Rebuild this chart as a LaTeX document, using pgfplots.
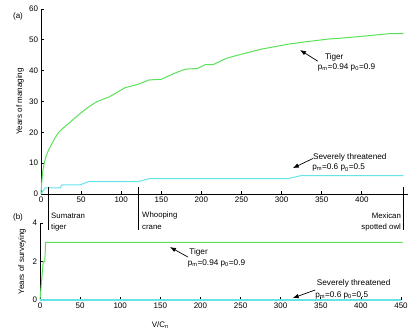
\documentclass[border=0pt]{standalone}
\usepackage{fontspec}
\setmainfont{Liberation Sans}
\usepackage{pgfplots}
\pgfplotsset{compat=1.18}
\usetikzlibrary{arrows.meta}
\definecolor{tgreen}{RGB}{90,225,90}
\definecolor{tcyan}{RGB}{100,228,232}
\pgfplotsset{mystyle/.style={
  scale only axis,
  axis x line=bottom, axis y line=left,
  axis line style={-, black, line width=0.8bp},
  tick align=inside, major tick length=3bp,
  tick style={black, line width=0.7bp},
  ticklabel style={font=\fontsize{8bp}{9bp}\selectfont},
  /pgf/number format/assume math mode=true,
  clip=false,
}}
\tikzset{ann/.style={font=\fontsize{8.2bp}{9bp}\selectfont, inner sep=0pt},
  mk/.style={font=\fontsize{7.8bp}{9bp}\selectfont, inner sep=0pt},
  arr/.style={-{Latex[length=6bp,width=4.5bp]}, line width=0.7bp}}
\begin{document}
\fontsize{8bp}{9.5bp}\selectfont
\begin{tikzpicture}
\path[use as bounding box] (0bp,0bp) rectangle (408bp,-333bp);
% ---------- (a) ----------
\begin{axis}[mystyle, at={(41bp,-194bp)}, anchor=south west,
  width=367.3bp, height=185bp,
  xmin=0, xmax=458, ymin=0, ymax=60,
  xtick={0,50,...,400}, ytick={0,10,...,60}]
\addplot[tgreen, line width=1bp] coordinates {
(0,0) (1,4) (2,7) (4,10) (6,12) (9,14) (13,16) (17,18) (22,20) (28,21.5)
(35,23) (46,25.5) (58,28) (70,30) (85,31.5) (95,33) (105,34.5) (120,35.5)
(135,37) (150,37.2) (165,39) (180,40.5) (195,40.7) (205,42) (215,42)
(231,44) (245,45) (260,46) (275,47) (290,47.7) (306,48.5) (325,49.2)
(344,49.8) (360,50.3) (372,50.5) (394,51) (415,51.5) (434,52) (452,52)};
\addplot[tcyan, line width=1bp] coordinates {
(0,0) (5,2) (24,2) (26,3) (49,3) (59,4) (121,4) (135,5) (308,5) (325,6) (452,6)};
% species markers
\draw[line width=0.7bp] (axis cs:9,2.3) -- (axis cs:9,-11.7);
\draw[line width=0.7bp] (axis cs:122,2.3) -- (axis cs:122,-11.7);
\draw[line width=0.7bp] (axis cs:452,2.3) -- (axis cs:452,-11.7);
\node[mk, anchor=west] at (axis cs:12.5,-7.1) {Sumatran};
\node[mk, anchor=west] at (axis cs:12.5,-11.0) {tiger};
\node[mk, anchor=west] at (axis cs:126,-7.1) {Whooping};
\node[mk, anchor=west] at (axis cs:126,-11.0) {crane};
\node[mk, anchor=east] at (axis cs:449,-7.1) {Mexican};
\node[mk, anchor=east] at (axis cs:449,-11.0) {spotted owl};
% annotations
\node[ann, anchor=west] at (axis cs:354,44.4) {Tiger};
\node[ann, anchor=west] at (axis cs:345,41.0) {p\textsubscript{m}=0.94 p\textsubscript{0}=0.9};
\draw[arr] (axis cs:345,43.1) -- (axis cs:323,46.7);
\node[ann, anchor=west] at (axis cs:339,12.0) {Severely threatened};
\node[ann, anchor=west] at (axis cs:338,8.5) {p\textsubscript{m}=0.6 p\textsubscript{0}=0.5};
\draw[arr] (axis cs:339,11.5) -- (axis cs:314,8.4);
\node[ann, rotate=90, font=\fontsize{8bp}{9bp}\selectfont] at (axis cs:-26,30) {Years of managing};
\node[ann, font=\fontsize{8bp}{9bp}\selectfont] at (axis cs:-28.7,57.7) {(a)};
\end{axis}
% ---------- (b) ----------
\begin{axis}[mystyle, at={(40bp,-300bp)}, anchor=south west,
  width=361bp, height=77bp,
  xmin=0, xmax=450, ymin=0, ymax=4,
  xtick={0,50,...,450}, ytick={0,2,4}]
\addplot[tgreen, line width=1bp] coordinates {
(0,0) (4,2) (6,2) (7,3) (452,3)};
\addplot[tcyan, line width=1.2bp] coordinates {(0,0) (450,0)};
\node[ann, anchor=west] at (axis cs:186,2.49) {Tiger};
\node[ann, anchor=west] at (axis cs:184,1.90) {p\textsubscript{m}=0.94 p\textsubscript{0}=0.9};
\draw[arr] (axis cs:184.5,2.23) -- (axis cs:162,2.75);
\node[ann, anchor=west] at (axis cs:345,0.88) {Severely threatened};
\node[ann, anchor=west] at (axis cs:343,0.24) {p\textsubscript{m}=0.6 p\textsubscript{0}=0.5};
\draw[arr] (axis cs:343,0.52) -- (axis cs:315,0.1);
\node[ann, rotate=90, font=\fontsize{8bp}{9bp}\selectfont] at (axis cs:-22.4,2) {Years of surveying};
\node[ann, font=\fontsize{8bp}{9bp}\selectfont] at (axis cs:-27.4,4.31) {(b)};
\node[ann, font=\fontsize{8bp}{9bp}\selectfont] at (axis cs:150,-1.3) {V/C\textsubscript{n}};
\end{axis}
\end{tikzpicture}
\end{document}
